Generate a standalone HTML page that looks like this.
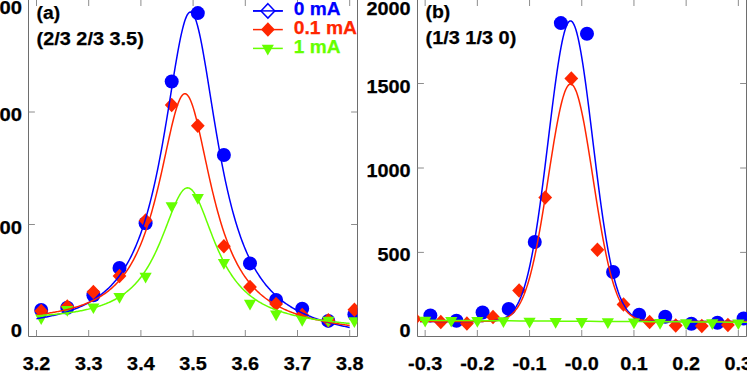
<!DOCTYPE html>
<html><head><meta charset="utf-8"><title>plot</title>
<style>html,body{margin:0;padding:0;background:#fff;}svg{display:block;}text{font-family:"Liberation Sans",sans-serif;font-weight:bold;stroke-width:0.25px;paint-order:stroke;}</style>
</head><body>
<svg width="747" height="374" viewBox="0 0 747 374">
<rect width="747" height="374" fill="#fff"/>
<defs><clipPath id="ca"><rect x="28.7" y="-5" width="328.7" height="341.5"/></clipPath>
<clipPath id="cb"><rect x="417.4" y="-5" width="340" height="341.5"/></clipPath></defs>
<g stroke="#6e6e6e" stroke-width="1" fill="none">
<path d="M28.50 -2 V336.50 H357.50 V-2"/>
<path stroke="#808080" stroke-width="0.9" d="M36.50 336.50 v-6.5 M36.50 0 v6"/>
<path stroke="#808080" stroke-width="0.9" d="M88.70 336.50 v-6.5 M88.70 0 v6"/>
<path stroke="#808080" stroke-width="0.9" d="M140.90 336.50 v-6.5 M140.90 0 v6"/>
<path stroke="#808080" stroke-width="0.9" d="M193.10 336.50 v-6.5 M193.10 0 v6"/>
<path stroke="#808080" stroke-width="0.9" d="M245.30 336.50 v-6.5 M245.30 0 v6"/>
<path stroke="#808080" stroke-width="0.9" d="M297.50 336.50 v-6.5 M297.50 0 v6"/>
<path stroke="#808080" stroke-width="0.9" d="M349.70 336.50 v-6.5 M349.70 0 v6"/>
<path stroke="#808080" stroke-width="0.9" d="M28.50 112.00 h6.4 M357.50 112.00 h-6.4"/>
<path stroke="#808080" stroke-width="0.9" d="M28.50 224.50 h6.4 M357.50 224.50 h-6.4"/>
<path d="M417.50 -2 V336.50 H746.50 V-2"/>
<path stroke="#808080" stroke-width="0.9" d="M425.15 336.50 v-6.5 M425.15 0 v6"/>
<path stroke="#808080" stroke-width="0.9" d="M477.35 336.50 v-6.5 M477.35 0 v6"/>
<path stroke="#808080" stroke-width="0.9" d="M529.55 336.50 v-6.5 M529.55 0 v6"/>
<path stroke="#808080" stroke-width="0.9" d="M581.75 336.50 v-6.5 M581.75 0 v6"/>
<path stroke="#808080" stroke-width="0.9" d="M633.95 336.50 v-6.5 M633.95 0 v6"/>
<path stroke="#808080" stroke-width="0.9" d="M686.15 336.50 v-6.5 M686.15 0 v6"/>
<path stroke="#808080" stroke-width="0.9" d="M738.35 336.50 v-6.5 M738.35 0 v6"/>
<path stroke="#808080" stroke-width="0.9" d="M417.50 83.50 h6.4 M746.50 83.50 h-6.4"/>
<path stroke="#808080" stroke-width="0.9" d="M417.50 168.00 h6.4 M746.50 168.00 h-6.4"/>
<path stroke="#808080" stroke-width="0.9" d="M417.50 252.40 h6.4 M746.50 252.40 h-6.4"/>
</g>
<g clip-path="url(#ca)">
<g fill="#0000ff">
<circle cx="41.20" cy="310.00" r="7.00"/>
<circle cx="67.30" cy="307.70" r="7.00"/>
<circle cx="93.40" cy="295.20" r="7.00"/>
<circle cx="119.50" cy="267.90" r="7.00"/>
<circle cx="145.60" cy="223.20" r="7.00"/>
<circle cx="171.70" cy="81.50" r="7.00"/>
<circle cx="197.80" cy="13.10" r="7.00"/>
<circle cx="223.90" cy="155.00" r="7.00"/>
<circle cx="250.00" cy="263.40" r="7.00"/>
<circle cx="276.10" cy="300.00" r="7.00"/>
<circle cx="302.20" cy="308.80" r="7.00"/>
<circle cx="328.30" cy="320.90" r="7.00"/>
<circle cx="354.40" cy="314.50" r="7.00"/>
</g><g fill="#ff2600">
<path d="M41.20 303.85 L48.10 311.10 L41.20 318.35 L34.30 311.10Z"/>
<path d="M67.30 299.25 L74.20 306.50 L67.30 313.75 L60.40 306.50Z"/>
<path d="M93.40 284.85 L100.30 292.10 L93.40 299.35 L86.50 292.10Z"/>
<path d="M119.50 268.75 L126.40 276.00 L119.50 283.25 L112.60 276.00Z"/>
<path d="M145.60 213.25 L152.50 220.50 L145.60 227.75 L138.70 220.50Z"/>
<path d="M171.70 97.65 L178.60 104.90 L171.70 112.15 L164.80 104.90Z"/>
<path d="M197.80 118.55 L204.70 125.80 L197.80 133.05 L190.90 125.80Z"/>
<path d="M223.90 239.05 L230.80 246.30 L223.90 253.55 L217.00 246.30Z"/>
<path d="M250.00 279.75 L256.90 287.00 L250.00 294.25 L243.10 287.00Z"/>
<path d="M276.10 296.85 L283.00 304.10 L276.10 311.35 L269.20 304.10Z"/>
<path d="M302.20 307.75 L309.10 315.00 L302.20 322.25 L295.30 315.00Z"/>
<path d="M328.30 312.95 L335.20 320.20 L328.30 327.45 L321.40 320.20Z"/>
<path d="M354.40 302.45 L361.30 309.70 L354.40 316.95 L347.50 309.70Z"/>
</g><g fill="#66ff00">
<path d="M35.10 314.20 L47.30 314.20 L41.20 324.90Z"/>
<path d="M61.20 306.00 L73.40 306.00 L67.30 316.70Z"/>
<path d="M87.30 303.40 L99.50 303.40 L93.40 314.10Z"/>
<path d="M113.40 293.10 L125.60 293.10 L119.50 303.80Z"/>
<path d="M139.50 272.70 L151.70 272.70 L145.60 283.40Z"/>
<path d="M165.60 202.20 L177.80 202.20 L171.70 212.90Z"/>
<path d="M191.70 194.00 L203.90 194.00 L197.80 204.70Z"/>
<path d="M217.80 259.10 L230.00 259.10 L223.90 269.80Z"/>
<path d="M243.90 299.80 L256.10 299.80 L250.00 310.50Z"/>
<path d="M270.00 310.50 L282.20 310.50 L276.10 321.20Z"/>
<path d="M296.10 316.10 L308.30 316.10 L302.20 326.80Z"/>
<path d="M322.20 316.80 L334.40 316.80 L328.30 327.50Z"/>
<path d="M348.30 317.20 L360.50 317.20 L354.40 327.90Z"/>
</g>
<g fill="none" stroke-width="1.5" stroke-linejoin="round">
<path stroke="#0000ff" d="M36.50 318.69 L37.50 318.53 L38.50 318.36 L39.50 318.19 L40.50 318.02 L41.50 317.84 L42.50 317.66 L43.50 317.48 L44.50 317.29 L45.50 317.10 L46.50 316.90 L47.50 316.70 L48.50 316.50 L49.50 316.29 L50.50 316.07 L51.50 315.85 L52.50 315.63 L53.50 315.40 L54.50 315.16 L55.50 314.92 L56.50 314.68 L57.50 314.43 L58.50 314.17 L59.50 313.91 L60.50 313.64 L61.50 313.36 L62.50 313.08 L63.50 312.79 L64.50 312.50 L65.50 312.20 L66.50 311.89 L67.50 311.57 L68.50 311.25 L69.50 310.91 L70.50 310.57 L71.50 310.23 L72.50 309.87 L73.50 309.50 L74.50 309.13 L75.50 308.74 L76.50 308.35 L77.50 307.94 L78.50 307.53 L79.50 307.10 L80.50 306.67 L81.50 306.22 L82.50 305.76 L83.50 305.29 L84.50 304.81 L85.50 304.31 L86.50 303.80 L87.50 303.28 L88.50 302.74 L89.50 302.19 L90.50 301.63 L91.50 301.04 L92.50 300.45 L93.50 299.83 L94.50 299.20 L95.50 298.55 L96.50 297.88 L97.50 297.20 L98.50 296.49 L99.50 295.76 L100.50 295.02 L101.50 294.25 L102.50 293.45 L103.50 292.64 L104.50 291.80 L105.50 290.93 L106.50 290.04 L107.50 289.12 L108.50 288.18 L109.50 287.20 L110.50 286.20 L111.50 285.16 L112.50 284.09 L113.50 282.99 L114.50 281.85 L115.50 280.68 L116.50 279.46 L117.50 278.21 L118.50 276.92 L119.50 275.59 L120.50 274.21 L121.50 272.78 L122.50 271.31 L123.50 269.79 L124.50 268.22 L125.50 266.59 L126.50 264.91 L127.50 263.17 L128.50 261.37 L129.50 259.51 L130.50 257.59 L131.50 255.59 L132.50 253.53 L133.50 251.40 L134.50 249.18 L135.50 246.89 L136.50 244.52 L137.50 242.07 L138.50 239.52 L139.50 236.89 L140.50 234.16 L141.50 231.33 L142.50 228.40 L143.50 225.37 L144.50 222.23 L145.50 218.97 L146.50 215.60 L147.50 212.12 L148.50 208.51 L149.50 204.77 L150.50 200.90 L151.50 196.91 L152.50 192.78 L153.50 188.51 L154.50 184.10 L155.50 179.55 L156.50 174.86 L157.50 170.03 L158.50 165.05 L159.50 159.94 L160.50 154.68 L161.50 149.29 L162.50 143.77 L163.50 138.12 L164.50 132.35 L165.50 126.48 L166.50 120.50 L167.50 114.44 L168.50 108.31 L169.50 102.13 L170.50 95.91 L171.50 89.68 L172.50 83.47 L173.50 77.29 L174.50 71.19 L175.50 65.18 L176.50 59.32 L177.50 53.62 L178.50 48.14 L179.50 42.90 L180.50 37.95 L181.50 33.33 L182.50 29.07 L183.50 25.21 L184.50 21.79 L185.50 18.85 L186.50 16.40 L187.50 14.47 L188.50 13.09 L189.50 12.26 L190.50 12.00 L191.50 12.31 L192.50 13.19 L193.50 14.62 L194.50 16.60 L195.50 19.10 L196.50 22.09 L197.50 25.56 L198.50 29.47 L199.50 33.78 L200.50 38.45 L201.50 43.45 L202.50 48.74 L203.50 54.27 L204.50 60.02 L205.50 65.93 L206.50 71.99 L207.50 78.14 L208.50 84.37 L209.50 90.63 L210.50 96.91 L211.50 103.18 L212.50 109.41 L213.50 115.59 L214.50 121.70 L215.50 127.73 L216.50 133.65 L217.50 139.47 L218.50 145.17 L219.50 150.74 L220.50 156.18 L221.50 161.49 L222.50 166.65 L223.50 171.68 L224.50 176.56 L225.50 181.30 L226.50 185.90 L227.50 190.36 L228.50 194.68 L229.50 198.86 L230.50 202.90 L231.50 206.82 L232.50 210.61 L233.50 214.27 L234.50 217.80 L235.50 221.22 L236.50 224.53 L237.50 227.72 L238.50 230.80 L239.50 233.78 L240.50 236.66 L241.50 239.44 L242.50 242.12 L243.50 244.72 L244.50 247.22 L245.50 249.64 L246.50 251.98 L247.50 254.25 L248.50 256.43 L249.50 258.54 L250.50 260.59 L251.50 262.56 L252.50 264.47 L253.50 266.32 L254.50 268.11 L255.50 269.84 L256.50 271.52 L257.50 273.14 L258.50 274.71 L259.50 276.23 L260.50 277.71 L261.50 279.14 L262.50 280.52 L263.50 281.86 L264.50 283.16 L265.50 284.43 L266.50 285.65 L267.50 286.84 L268.50 287.99 L269.50 289.11 L270.50 290.20 L271.50 291.25 L272.50 292.28 L273.50 293.27 L274.50 294.24 L275.50 295.18 L276.50 296.10 L277.50 296.99 L278.50 297.85 L279.50 298.70 L280.50 299.52 L281.50 300.31 L282.50 301.09 L283.50 301.85 L284.50 302.58 L285.50 303.30 L286.50 304.00 L287.50 304.68 L288.50 305.35 L289.50 305.99 L290.50 306.63 L291.50 307.24 L292.50 307.84 L293.50 308.43 L294.50 309.00 L295.50 309.56 L296.50 310.11 L297.50 310.64 L298.50 311.16 L299.50 311.67 L300.50 312.17 L301.50 312.65 L302.50 313.13 L303.50 313.59 L304.50 314.05 L305.50 314.49 L306.50 314.93 L307.50 315.35 L308.50 315.77 L309.50 316.18 L310.50 316.57 L311.50 316.96 L312.50 317.35 L313.50 317.72 L314.50 318.09 L315.50 318.45 L316.50 318.80 L317.50 319.14 L318.50 319.48 L319.50 319.81 L320.50 320.14 L321.50 320.46 L322.50 320.77 L323.50 321.08 L324.50 321.38 L325.50 321.67 L326.50 321.96 L327.50 322.25 L328.50 322.53 L329.50 322.80 L330.50 323.07 L331.50 323.34 L332.50 323.60 L333.50 323.85 L334.50 324.10 L335.50 324.35 L336.50 324.59 L337.50 324.83 L338.50 325.06 L339.50 325.29 L340.50 325.52 L341.50 325.74 L342.50 325.96 L343.50 326.18 L344.50 326.39 L345.50 326.60 L346.50 326.80 L347.50 327.01 L348.50 327.21 L349.50 327.40 L349.70 327.44"/>
<path stroke="#ff2600" d="M36.50 314.75 L37.50 314.64 L38.50 314.52 L39.50 314.39 L40.50 314.27 L41.50 314.14 L42.50 314.01 L43.50 313.88 L44.50 313.74 L45.50 313.60 L46.50 313.46 L47.50 313.31 L48.50 313.16 L49.50 313.00 L50.50 312.84 L51.50 312.68 L52.50 312.52 L53.50 312.34 L54.50 312.17 L55.50 311.99 L56.50 311.81 L57.50 311.62 L58.50 311.43 L59.50 311.23 L60.50 311.03 L61.50 310.82 L62.50 310.61 L63.50 310.39 L64.50 310.16 L65.50 309.93 L66.50 309.70 L67.50 309.46 L68.50 309.21 L69.50 308.96 L70.50 308.69 L71.50 308.43 L72.50 308.15 L73.50 307.87 L74.50 307.58 L75.50 307.28 L76.50 306.98 L77.50 306.66 L78.50 306.34 L79.50 306.01 L80.50 305.67 L81.50 305.32 L82.50 304.96 L83.50 304.59 L84.50 304.21 L85.50 303.82 L86.50 303.42 L87.50 303.00 L88.50 302.58 L89.50 302.14 L90.50 301.69 L91.50 301.23 L92.50 300.75 L93.50 300.26 L94.50 299.75 L95.50 299.23 L96.50 298.70 L97.50 298.14 L98.50 297.57 L99.50 296.99 L100.50 296.38 L101.50 295.76 L102.50 295.11 L103.50 294.45 L104.50 293.77 L105.50 293.06 L106.50 292.33 L107.50 291.58 L108.50 290.80 L109.50 290.00 L110.50 289.17 L111.50 288.31 L112.50 287.43 L113.50 286.52 L114.50 285.57 L115.50 284.59 L116.50 283.58 L117.50 282.54 L118.50 281.46 L119.50 280.34 L120.50 279.18 L121.50 277.99 L122.50 276.75 L123.50 275.46 L124.50 274.13 L125.50 272.76 L126.50 271.33 L127.50 269.85 L128.50 268.32 L129.50 266.74 L130.50 265.09 L131.50 263.39 L132.50 261.62 L133.50 259.79 L134.50 257.89 L135.50 255.92 L136.50 253.87 L137.50 251.76 L138.50 249.56 L139.50 247.28 L140.50 244.92 L141.50 242.47 L142.50 239.94 L143.50 237.31 L144.50 234.59 L145.50 231.77 L146.50 228.85 L147.50 225.83 L148.50 222.71 L149.50 219.48 L150.50 216.14 L151.50 212.70 L152.50 209.14 L153.50 205.48 L154.50 201.71 L155.50 197.84 L156.50 193.86 L157.50 189.78 L158.50 185.60 L159.50 181.34 L160.50 176.98 L161.50 172.56 L162.50 168.06 L163.50 163.52 L164.50 158.93 L165.50 154.31 L166.50 149.69 L167.50 145.08 L168.50 140.50 L169.50 135.98 L170.50 131.54 L171.50 127.20 L172.50 123.00 L173.50 118.97 L174.50 115.13 L175.50 111.52 L176.50 108.17 L177.50 105.10 L178.50 102.34 L179.50 99.93 L180.50 97.89 L181.50 96.23 L182.50 94.98 L183.50 94.15 L184.50 93.74 L185.50 93.77 L186.50 94.23 L187.50 95.12 L188.50 96.43 L189.50 98.14 L190.50 100.24 L191.50 102.71 L192.50 105.51 L193.50 108.64 L194.50 112.05 L195.50 115.72 L196.50 119.61 L197.50 123.70 L198.50 127.95 L199.50 132.34 L200.50 136.84 L201.50 141.42 L202.50 146.05 L203.50 150.72 L204.50 155.40 L205.50 160.07 L206.50 164.71 L207.50 169.31 L208.50 173.86 L209.50 178.35 L210.50 182.75 L211.50 187.08 L212.50 191.31 L213.50 195.44 L214.50 199.48 L215.50 203.41 L216.50 207.23 L217.50 210.95 L218.50 214.56 L219.50 218.06 L220.50 221.45 L221.50 224.73 L222.50 227.91 L223.50 230.99 L224.50 233.96 L225.50 236.84 L226.50 239.62 L227.50 242.30 L228.50 244.89 L229.50 247.40 L230.50 249.81 L231.50 252.14 L232.50 254.40 L233.50 256.57 L234.50 258.67 L235.50 260.69 L236.50 262.65 L237.50 264.54 L238.50 266.36 L239.50 268.12 L240.50 269.82 L241.50 271.46 L242.50 273.05 L243.50 274.58 L244.50 276.07 L245.50 277.50 L246.50 278.88 L247.50 280.22 L248.50 281.52 L249.50 282.77 L250.50 283.98 L251.50 285.16 L252.50 286.29 L253.50 287.39 L254.50 288.46 L255.50 289.49 L256.50 290.49 L257.50 291.46 L258.50 292.40 L259.50 293.31 L260.50 294.20 L261.50 295.05 L262.50 295.89 L263.50 296.69 L264.50 297.48 L265.50 298.24 L266.50 298.98 L267.50 299.70 L268.50 300.40 L269.50 301.08 L270.50 301.74 L271.50 302.38 L272.50 303.01 L273.50 303.62 L274.50 304.21 L275.50 304.78 L276.50 305.35 L277.50 305.89 L278.50 306.42 L279.50 306.94 L280.50 307.45 L281.50 307.94 L282.50 308.42 L283.50 308.89 L284.50 309.35 L285.50 309.80 L286.50 310.23 L287.50 310.66 L288.50 311.07 L289.50 311.48 L290.50 311.87 L291.50 312.26 L292.50 312.64 L293.50 313.01 L294.50 313.37 L295.50 313.72 L296.50 314.07 L297.50 314.41 L298.50 314.74 L299.50 315.06 L300.50 315.38 L301.50 315.69 L302.50 315.99 L303.50 316.29 L304.50 316.58 L305.50 316.86 L306.50 317.14 L307.50 317.42 L308.50 317.69 L309.50 317.95 L310.50 318.21 L311.50 318.46 L312.50 318.71 L313.50 318.95 L314.50 319.19 L315.50 319.43 L316.50 319.66 L317.50 319.88 L318.50 320.10 L319.50 320.32 L320.50 320.54 L321.50 320.75 L322.50 320.95 L323.50 321.16 L324.50 321.36 L325.50 321.55 L326.50 321.74 L327.50 321.93 L328.50 322.12 L329.50 322.30 L330.50 322.48 L331.50 322.66 L332.50 322.84 L333.50 323.01 L334.50 323.18 L335.50 323.34 L336.50 323.51 L337.50 323.67 L338.50 323.83 L339.50 323.99 L340.50 324.14 L341.50 324.29 L342.50 324.44 L343.50 324.59 L344.50 324.73 L345.50 324.88 L346.50 325.02 L347.50 325.16 L348.50 325.30 L349.50 325.43 L349.70 325.46"/>
<path stroke="#66ff00" d="M36.50 315.82 L37.50 315.76 L38.50 315.69 L39.50 315.63 L40.50 315.56 L41.50 315.49 L42.50 315.42 L43.50 315.35 L44.50 315.27 L45.50 315.20 L46.50 315.12 L47.50 315.04 L48.50 314.96 L49.50 314.87 L50.50 314.79 L51.50 314.70 L52.50 314.61 L53.50 314.52 L54.50 314.42 L55.50 314.32 L56.50 314.22 L57.50 314.12 L58.50 314.01 L59.50 313.91 L60.50 313.79 L61.50 313.68 L62.50 313.56 L63.50 313.44 L64.50 313.32 L65.50 313.19 L66.50 313.06 L67.50 312.93 L68.50 312.79 L69.50 312.65 L70.50 312.51 L71.50 312.36 L72.50 312.21 L73.50 312.05 L74.50 311.89 L75.50 311.73 L76.50 311.56 L77.50 311.39 L78.50 311.21 L79.50 311.03 L80.50 310.84 L81.50 310.64 L82.50 310.44 L83.50 310.24 L84.50 310.03 L85.50 309.81 L86.50 309.59 L87.50 309.36 L88.50 309.13 L89.50 308.89 L90.50 308.64 L91.50 308.38 L92.50 308.12 L93.50 307.84 L94.50 307.56 L95.50 307.28 L96.50 306.98 L97.50 306.68 L98.50 306.36 L99.50 306.04 L100.50 305.70 L101.50 305.36 L102.50 305.00 L103.50 304.64 L104.50 304.26 L105.50 303.87 L106.50 303.47 L107.50 303.06 L108.50 302.63 L109.50 302.19 L110.50 301.73 L111.50 301.26 L112.50 300.78 L113.50 300.28 L114.50 299.76 L115.50 299.22 L116.50 298.67 L117.50 298.10 L118.50 297.51 L119.50 296.90 L120.50 296.27 L121.50 295.61 L122.50 294.94 L123.50 294.24 L124.50 293.52 L125.50 292.77 L126.50 291.99 L127.50 291.19 L128.50 290.36 L129.50 289.50 L130.50 288.61 L131.50 287.69 L132.50 286.74 L133.50 285.75 L134.50 284.72 L135.50 283.66 L136.50 282.56 L137.50 281.42 L138.50 280.24 L139.50 279.02 L140.50 277.75 L141.50 276.44 L142.50 275.08 L143.50 273.67 L144.50 272.21 L145.50 270.70 L146.50 269.13 L147.50 267.52 L148.50 265.85 L149.50 264.12 L150.50 262.33 L151.50 260.48 L152.50 258.58 L153.50 256.62 L154.50 254.59 L155.50 252.51 L156.50 250.36 L157.50 248.16 L158.50 245.90 L159.50 243.59 L160.50 241.22 L161.50 238.80 L162.50 236.33 L163.50 233.83 L164.50 231.28 L165.50 228.71 L166.50 226.11 L167.50 223.50 L168.50 220.88 L169.50 218.26 L170.50 215.66 L171.50 213.09 L172.50 210.55 L173.50 208.08 L174.50 205.67 L175.50 203.35 L176.50 201.13 L177.50 199.03 L178.50 197.06 L179.50 195.24 L180.50 193.60 L181.50 192.13 L182.50 190.86 L183.50 189.79 L184.50 188.95 L185.50 188.33 L186.50 187.95 L187.50 187.80 L188.50 187.89 L189.50 188.23 L190.50 188.80 L191.50 189.59 L192.50 190.61 L193.50 191.85 L194.50 193.28 L195.50 194.90 L196.50 196.70 L197.50 198.65 L198.50 200.74 L199.50 202.96 L200.50 205.28 L201.50 207.70 L202.50 210.20 L203.50 212.75 L204.50 215.35 L205.50 217.99 L206.50 220.64 L207.50 223.31 L208.50 225.97 L209.50 228.62 L210.50 231.24 L211.50 233.85 L212.50 236.41 L213.50 238.94 L214.50 241.42 L215.50 243.85 L216.50 246.23 L217.50 248.56 L218.50 250.83 L219.50 253.04 L220.50 255.19 L221.50 257.28 L222.50 259.31 L223.50 261.28 L224.50 263.20 L225.50 265.05 L226.50 266.84 L227.50 268.58 L228.50 270.27 L229.50 271.89 L230.50 273.47 L231.50 274.99 L232.50 276.46 L233.50 277.88 L234.50 279.26 L235.50 280.59 L236.50 281.87 L237.50 283.11 L238.50 284.31 L239.50 285.47 L240.50 286.59 L241.50 287.68 L242.50 288.72 L243.50 289.73 L244.50 290.71 L245.50 291.66 L246.50 292.57 L247.50 293.46 L248.50 294.32 L249.50 295.14 L250.50 295.95 L251.50 296.72 L252.50 297.47 L253.50 298.20 L254.50 298.91 L255.50 299.59 L256.50 300.25 L257.50 300.90 L258.50 301.52 L259.50 302.12 L260.50 302.71 L261.50 303.27 L262.50 303.83 L263.50 304.36 L264.50 304.88 L265.50 305.38 L266.50 305.87 L267.50 306.35 L268.50 306.81 L269.50 307.26 L270.50 307.70 L271.50 308.13 L272.50 308.54 L273.50 308.94 L274.50 309.33 L275.50 309.71 L276.50 310.09 L277.50 310.45 L278.50 310.80 L279.50 311.14 L280.50 311.48 L281.50 311.80 L282.50 312.12 L283.50 312.43 L284.50 312.74 L285.50 313.03 L286.50 313.32 L287.50 313.60 L288.50 313.88 L289.50 314.14 L290.50 314.41 L291.50 314.66 L292.50 314.91 L293.50 315.16 L294.50 315.40 L295.50 315.63 L296.50 315.86 L297.50 316.08 L298.50 316.30 L299.50 316.51 L300.50 316.72 L301.50 316.93 L302.50 317.13 L303.50 317.33 L304.50 317.52 L305.50 317.71 L306.50 317.89 L307.50 318.08 L308.50 318.25 L309.50 318.43 L310.50 318.60 L311.50 318.77 L312.50 318.93 L313.50 319.09 L314.50 319.25 L315.50 319.41 L316.50 319.56 L317.50 319.71 L318.50 319.86 L319.50 320.00 L320.50 320.15 L321.50 320.29 L322.50 320.42 L323.50 320.56 L324.50 320.69 L325.50 320.82 L326.50 320.95 L327.50 321.08 L328.50 321.20 L329.50 321.32 L330.50 321.44 L331.50 321.56 L332.50 321.68 L333.50 321.79 L334.50 321.90 L335.50 322.02 L336.50 322.12 L337.50 322.23 L338.50 322.34 L339.50 322.44 L340.50 322.55 L341.50 322.65 L342.50 322.75 L343.50 322.85 L344.50 322.94 L345.50 323.04 L346.50 323.14 L347.50 323.23 L348.50 323.32 L349.50 323.41 L349.70 323.43"/>
</g></g>
<g clip-path="url(#cb)">
<g fill="#0000ff">
<circle cx="430.37" cy="315.40" r="7.00"/>
<circle cx="456.47" cy="320.80" r="7.00"/>
<circle cx="482.57" cy="312.50" r="7.00"/>
<circle cx="508.67" cy="308.90" r="7.00"/>
<circle cx="534.77" cy="242.00" r="7.00"/>
<circle cx="560.87" cy="23.10" r="7.00"/>
<circle cx="586.97" cy="33.70" r="7.00"/>
<circle cx="613.07" cy="272.00" r="7.00"/>
<circle cx="639.17" cy="314.70" r="7.00"/>
<circle cx="665.27" cy="316.80" r="7.00"/>
<circle cx="691.37" cy="323.70" r="7.00"/>
<circle cx="717.47" cy="322.80" r="7.00"/>
<circle cx="743.57" cy="318.50" r="7.00"/>
</g><g fill="#ff2600">
<path d="M414.71 311.55 L421.61 318.80 L414.71 326.05 L407.81 318.80Z"/>
<path d="M440.81 314.85 L447.71 322.10 L440.81 329.35 L433.91 322.10Z"/>
<path d="M466.91 316.25 L473.81 323.50 L466.91 330.75 L460.01 323.50Z"/>
<path d="M493.01 309.75 L499.91 317.00 L493.01 324.25 L486.11 317.00Z"/>
<path d="M519.11 283.35 L526.01 290.60 L519.11 297.85 L512.21 290.60Z"/>
<path d="M545.21 190.35 L552.11 197.60 L545.21 204.85 L538.31 197.60Z"/>
<path d="M571.31 71.15 L578.21 78.40 L571.31 85.65 L564.41 78.40Z"/>
<path d="M597.41 242.60 L604.31 249.85 L597.41 257.10 L590.51 249.85Z"/>
<path d="M623.51 297.15 L630.41 304.40 L623.51 311.65 L616.61 304.40Z"/>
<path d="M649.61 314.85 L656.51 322.10 L649.61 329.35 L642.71 322.10Z"/>
<path d="M675.71 318.25 L682.61 325.50 L675.71 332.75 L668.81 325.50Z"/>
<path d="M701.81 318.85 L708.71 326.10 L701.81 333.35 L694.91 326.10Z"/>
<path d="M727.91 317.85 L734.81 325.10 L727.91 332.35 L721.01 325.10Z"/>
</g>
<g fill="none" stroke-width="1.5" stroke-linejoin="round">
<path stroke="#0000ff" d="M420.00 321.50 L421.00 321.50 L422.00 321.50 L423.00 321.50 L424.00 321.50 L425.00 321.50 L426.00 321.50 L427.00 321.50 L428.00 321.50 L429.00 321.50 L430.00 321.50 L431.00 321.50 L432.00 321.50 L433.00 321.50 L434.00 321.50 L435.00 321.50 L436.00 321.50 L437.00 321.50 L438.00 321.50 L439.00 321.50 L440.00 321.50 L441.00 321.50 L442.00 321.50 L443.00 321.50 L444.00 321.50 L445.00 321.50 L446.00 321.50 L447.00 321.50 L448.00 321.50 L449.00 321.50 L450.00 321.50 L451.00 321.50 L452.00 321.50 L453.00 321.50 L454.00 321.50 L455.00 321.50 L456.00 321.50 L457.00 321.50 L458.00 321.50 L459.00 321.50 L460.00 321.50 L461.00 321.50 L462.00 321.50 L463.00 321.50 L464.00 321.50 L465.00 321.50 L466.00 321.50 L467.00 321.49 L468.00 321.49 L469.00 321.49 L470.00 321.49 L471.00 321.49 L472.00 321.48 L473.00 321.48 L474.00 321.48 L475.00 321.47 L476.00 321.47 L477.00 321.46 L478.00 321.45 L479.00 321.44 L480.00 321.43 L481.00 321.41 L482.00 321.40 L483.00 321.38 L484.00 321.35 L485.00 321.33 L486.00 321.29 L487.00 321.25 L488.00 321.21 L489.00 321.15 L490.00 321.09 L491.00 321.02 L492.00 320.94 L493.00 320.84 L494.00 320.73 L495.00 320.60 L496.00 320.45 L497.00 320.28 L498.00 320.08 L499.00 319.86 L500.00 319.60 L501.00 319.31 L502.00 318.98 L503.00 318.61 L504.00 318.18 L505.00 317.71 L506.00 317.17 L507.00 316.56 L508.00 315.89 L509.00 315.13 L510.00 314.29 L511.00 313.35 L512.00 312.31 L513.00 311.16 L514.00 309.88 L515.00 308.48 L516.00 306.93 L517.00 305.24 L518.00 303.38 L519.00 301.36 L520.00 299.15 L521.00 296.75 L522.00 294.15 L523.00 291.34 L524.00 288.31 L525.00 285.05 L526.00 281.55 L527.00 277.80 L528.00 273.80 L529.00 269.53 L530.00 265.00 L531.00 260.20 L532.00 255.13 L533.00 249.79 L534.00 244.17 L535.00 238.28 L536.00 232.13 L537.00 225.72 L538.00 219.05 L539.00 212.15 L540.00 205.02 L541.00 197.67 L542.00 190.13 L543.00 182.42 L544.00 174.55 L545.00 166.55 L546.00 158.45 L547.00 150.28 L548.00 142.06 L549.00 133.83 L550.00 125.62 L551.00 117.47 L552.00 109.41 L553.00 101.49 L554.00 93.73 L555.00 86.18 L556.00 78.88 L557.00 71.85 L558.00 65.15 L559.00 58.80 L560.00 52.85 L561.00 47.31 L562.00 42.24 L563.00 37.65 L564.00 33.57 L565.00 30.03 L566.00 27.04 L567.00 24.63 L568.00 22.81 L569.00 21.59 L570.00 20.98 L571.00 20.98 L572.00 21.59 L573.00 22.81 L574.00 24.63 L575.00 27.04 L576.00 30.03 L577.00 33.57 L578.00 37.65 L579.00 42.24 L580.00 47.31 L581.00 52.85 L582.00 58.80 L583.00 65.15 L584.00 71.85 L585.00 78.88 L586.00 86.18 L587.00 93.73 L588.00 101.49 L589.00 109.41 L590.00 117.47 L591.00 125.62 L592.00 133.83 L593.00 142.06 L594.00 150.28 L595.00 158.45 L596.00 166.55 L597.00 174.55 L598.00 182.42 L599.00 190.13 L600.00 197.67 L601.00 205.02 L602.00 212.15 L603.00 219.05 L604.00 225.72 L605.00 232.13 L606.00 238.28 L607.00 244.17 L608.00 249.79 L609.00 255.13 L610.00 260.20 L611.00 265.00 L612.00 269.53 L613.00 273.80 L614.00 277.80 L615.00 281.55 L616.00 285.05 L617.00 288.31 L618.00 291.34 L619.00 294.15 L620.00 296.75 L621.00 299.15 L622.00 301.36 L623.00 303.38 L624.00 305.24 L625.00 306.93 L626.00 308.48 L627.00 309.88 L628.00 311.16 L629.00 312.31 L630.00 313.35 L631.00 314.29 L632.00 315.13 L633.00 315.89 L634.00 316.56 L635.00 317.17 L636.00 317.71 L637.00 318.18 L638.00 318.61 L639.00 318.98 L640.00 319.31 L641.00 319.60 L642.00 319.86 L643.00 320.08 L644.00 320.28 L645.00 320.45 L646.00 320.60 L647.00 320.73 L648.00 320.84 L649.00 320.94 L650.00 321.02 L651.00 321.09 L652.00 321.15 L653.00 321.21 L654.00 321.25 L655.00 321.29 L656.00 321.33 L657.00 321.35 L658.00 321.38 L659.00 321.40 L660.00 321.41 L661.00 321.43 L662.00 321.44 L663.00 321.45 L664.00 321.46 L665.00 321.47 L666.00 321.47 L667.00 321.48 L668.00 321.48 L669.00 321.48 L670.00 321.49 L671.00 321.49 L672.00 321.49 L673.00 321.49 L674.00 321.49 L675.00 321.50 L676.00 321.50 L677.00 321.50 L678.00 321.50 L679.00 321.50 L680.00 321.50 L681.00 321.50 L682.00 321.50 L683.00 321.50 L684.00 321.50 L685.00 321.50 L686.00 321.50 L687.00 321.50 L688.00 321.50 L689.00 321.50 L690.00 321.50 L691.00 321.50 L692.00 321.50 L693.00 321.50 L694.00 321.50 L695.00 321.50 L696.00 321.50 L697.00 321.50 L698.00 321.50 L699.00 321.50 L700.00 321.50 L701.00 321.50 L702.00 321.50 L703.00 321.50 L704.00 321.50 L705.00 321.50 L706.00 321.50 L707.00 321.50 L708.00 321.50 L709.00 321.50 L710.00 321.50 L711.00 321.50 L712.00 321.50 L713.00 321.50 L714.00 321.50 L715.00 321.50 L716.00 321.50 L717.00 321.50 L718.00 321.50 L719.00 321.50 L720.00 321.50 L721.00 321.50 L722.00 321.50 L723.00 321.50 L724.00 321.50 L725.00 321.50 L726.00 321.50 L727.00 321.50 L728.00 321.50 L729.00 321.50 L730.00 321.50 L731.00 321.50 L732.00 321.50 L733.00 321.50 L734.00 321.50 L735.00 321.50 L736.00 321.50 L737.00 321.50 L738.00 321.50 L739.00 321.50 L740.00 321.50 L741.00 321.50 L742.00 321.50 L743.00 321.50 L744.00 321.50 L745.00 321.50 L746.00 321.50 L747.00 321.50 L748.00 321.50 L749.00 321.50 L750.00 321.50"/>
<path stroke="#ff2600" d="M420.00 321.50 L421.00 321.50 L422.00 321.50 L423.00 321.50 L424.00 321.50 L425.00 321.50 L426.00 321.50 L427.00 321.50 L428.00 321.50 L429.00 321.50 L430.00 321.50 L431.00 321.50 L432.00 321.50 L433.00 321.50 L434.00 321.50 L435.00 321.50 L436.00 321.50 L437.00 321.50 L438.00 321.50 L439.00 321.50 L440.00 321.50 L441.00 321.50 L442.00 321.50 L443.00 321.50 L444.00 321.50 L445.00 321.50 L446.00 321.50 L447.00 321.50 L448.00 321.50 L449.00 321.50 L450.00 321.50 L451.00 321.50 L452.00 321.50 L453.00 321.50 L454.00 321.50 L455.00 321.50 L456.00 321.50 L457.00 321.50 L458.00 321.50 L459.00 321.50 L460.00 321.50 L461.00 321.50 L462.00 321.50 L463.00 321.50 L464.00 321.50 L465.00 321.50 L466.00 321.50 L467.00 321.50 L468.00 321.49 L469.00 321.49 L470.00 321.49 L471.00 321.49 L472.00 321.49 L473.00 321.48 L474.00 321.48 L475.00 321.48 L476.00 321.47 L477.00 321.46 L478.00 321.46 L479.00 321.45 L480.00 321.44 L481.00 321.43 L482.00 321.41 L483.00 321.39 L484.00 321.37 L485.00 321.35 L486.00 321.32 L487.00 321.29 L488.00 321.25 L489.00 321.21 L490.00 321.15 L491.00 321.09 L492.00 321.02 L493.00 320.94 L494.00 320.85 L495.00 320.74 L496.00 320.62 L497.00 320.48 L498.00 320.31 L499.00 320.13 L500.00 319.92 L501.00 319.68 L502.00 319.41 L503.00 319.10 L504.00 318.75 L505.00 318.36 L506.00 317.92 L507.00 317.43 L508.00 316.88 L509.00 316.27 L510.00 315.58 L511.00 314.82 L512.00 313.98 L513.00 313.05 L514.00 312.02 L515.00 310.89 L516.00 309.64 L517.00 308.28 L518.00 306.79 L519.00 305.17 L520.00 303.40 L521.00 301.48 L522.00 299.41 L523.00 297.16 L524.00 294.74 L525.00 292.14 L526.00 289.36 L527.00 286.38 L528.00 283.20 L529.00 279.81 L530.00 276.22 L531.00 272.42 L532.00 268.40 L533.00 264.18 L534.00 259.74 L535.00 255.09 L536.00 250.23 L537.00 245.17 L538.00 239.92 L539.00 234.48 L540.00 228.86 L541.00 223.08 L542.00 217.15 L543.00 211.08 L544.00 204.90 L545.00 198.62 L546.00 192.26 L547.00 185.84 L548.00 179.39 L549.00 172.93 L550.00 166.49 L551.00 160.10 L552.00 153.78 L553.00 147.56 L554.00 141.47 L555.00 135.55 L556.00 129.82 L557.00 124.30 L558.00 119.04 L559.00 114.05 L560.00 109.37 L561.00 105.02 L562.00 101.02 L563.00 97.40 L564.00 94.18 L565.00 91.37 L566.00 89.00 L567.00 87.07 L568.00 85.61 L569.00 84.61 L570.00 84.09 L571.00 84.04 L572.00 84.47 L573.00 85.37 L574.00 86.74 L575.00 88.58 L576.00 90.86 L577.00 93.58 L578.00 96.72 L579.00 100.27 L580.00 104.19 L581.00 108.47 L582.00 113.09 L583.00 118.02 L584.00 123.23 L585.00 128.70 L586.00 134.39 L587.00 140.27 L588.00 146.33 L589.00 152.52 L590.00 158.82 L591.00 165.21 L592.00 171.64 L593.00 178.09 L594.00 184.55 L595.00 190.98 L596.00 197.35 L597.00 203.65 L598.00 209.86 L599.00 215.95 L600.00 221.91 L601.00 227.72 L602.00 233.37 L603.00 238.84 L604.00 244.14 L605.00 249.23 L606.00 254.13 L607.00 258.82 L608.00 263.31 L609.00 267.58 L610.00 271.63 L611.00 275.48 L612.00 279.11 L613.00 282.54 L614.00 285.76 L615.00 288.78 L616.00 291.60 L617.00 294.24 L618.00 296.69 L619.00 298.97 L620.00 301.08 L621.00 303.03 L622.00 304.83 L623.00 306.48 L624.00 307.99 L625.00 309.38 L626.00 310.65 L627.00 311.80 L628.00 312.85 L629.00 313.80 L630.00 314.66 L631.00 315.44 L632.00 316.14 L633.00 316.76 L634.00 317.33 L635.00 317.83 L636.00 318.28 L637.00 318.68 L638.00 319.03 L639.00 319.35 L640.00 319.63 L641.00 319.87 L642.00 320.09 L643.00 320.28 L644.00 320.45 L645.00 320.59 L646.00 320.72 L647.00 320.83 L648.00 320.92 L649.00 321.01 L650.00 321.08 L651.00 321.14 L652.00 321.20 L653.00 321.24 L654.00 321.28 L655.00 321.32 L656.00 321.34 L657.00 321.37 L658.00 321.39 L659.00 321.41 L660.00 321.42 L661.00 321.44 L662.00 321.45 L663.00 321.46 L664.00 321.46 L665.00 321.47 L666.00 321.47 L667.00 321.48 L668.00 321.48 L669.00 321.49 L670.00 321.49 L671.00 321.49 L672.00 321.49 L673.00 321.49 L674.00 321.49 L675.00 321.50 L676.00 321.50 L677.00 321.50 L678.00 321.50 L679.00 321.50 L680.00 321.50 L681.00 321.50 L682.00 321.50 L683.00 321.50 L684.00 321.50 L685.00 321.50 L686.00 321.50 L687.00 321.50 L688.00 321.50 L689.00 321.50 L690.00 321.50 L691.00 321.50 L692.00 321.50 L693.00 321.50 L694.00 321.50 L695.00 321.50 L696.00 321.50 L697.00 321.50 L698.00 321.50 L699.00 321.50 L700.00 321.50 L701.00 321.50 L702.00 321.50 L703.00 321.50 L704.00 321.50 L705.00 321.50 L706.00 321.50 L707.00 321.50 L708.00 321.50 L709.00 321.50 L710.00 321.50 L711.00 321.50 L712.00 321.50 L713.00 321.50 L714.00 321.50 L715.00 321.50 L716.00 321.50 L717.00 321.50 L718.00 321.50 L719.00 321.50 L720.00 321.50 L721.00 321.50 L722.00 321.50 L723.00 321.50 L724.00 321.50 L725.00 321.50 L726.00 321.50 L727.00 321.50 L728.00 321.50 L729.00 321.50 L730.00 321.50 L731.00 321.50 L732.00 321.50 L733.00 321.50 L734.00 321.50 L735.00 321.50 L736.00 321.50 L737.00 321.50 L738.00 321.50 L739.00 321.50 L740.00 321.50 L741.00 321.50 L742.00 321.50 L743.00 321.50 L744.00 321.50 L745.00 321.50 L746.00 321.50 L747.00 321.50 L748.00 321.50 L749.00 321.50 L750.00 321.50"/>
</g>
<g fill="#66ff00">
<path d="M419.05 316.80 L431.25 316.80 L425.15 327.50Z"/>
<path d="M445.15 316.90 L457.35 316.90 L451.25 327.60Z"/>
<path d="M471.25 317.00 L483.45 317.00 L477.35 327.70Z"/>
<path d="M497.35 317.30 L509.55 317.30 L503.45 328.00Z"/>
<path d="M523.45 317.80 L535.65 317.80 L529.55 328.50Z"/>
<path d="M549.55 318.00 L561.75 318.00 L555.65 328.70Z"/>
<path d="M575.65 318.10 L587.85 318.10 L581.75 328.80Z"/>
<path d="M601.75 318.20 L613.95 318.20 L607.85 328.90Z"/>
<path d="M627.85 318.50 L640.05 318.50 L633.95 329.20Z"/>
<path d="M653.95 319.00 L666.15 319.00 L660.05 329.70Z"/>
<path d="M680.05 319.20 L692.25 319.20 L686.15 329.90Z"/>
<path d="M706.15 319.30 L718.35 319.30 L712.25 330.00Z"/>
<path d="M732.25 319.40 L744.45 319.40 L738.35 330.10Z"/>
</g>
<path fill="none" stroke-width="1.5" stroke="#66ff00" d="M420.00 320.30 L430.00 320.36 L440.00 320.42 L450.00 320.48 L460.00 320.54 L470.00 320.60 L480.00 320.66 L490.00 320.72 L500.00 320.78 L510.00 320.84 L520.00 320.90 L530.00 320.96 L540.00 321.02 L550.00 321.08 L560.00 321.14 L570.00 321.20 L580.00 321.26 L590.00 321.32 L600.00 321.38 L610.00 321.44 L620.00 321.50 L630.00 321.56 L640.00 321.62 L650.00 321.68 L660.00 321.74 L670.00 321.80 L680.00 321.86 L690.00 321.92 L700.00 321.98 L710.00 322.04 L720.00 322.10 L730.00 322.16 L740.00 322.22 L750.00 322.28"/>
</g>
<path d="M253 10.90 H282.8" stroke="#0000ff" stroke-width="1.5" fill="none"/>
<path d="M253 29.60 H282.8" stroke="#ff2600" stroke-width="1.5" fill="none"/>
<path d="M253 48.40 H282.8" stroke="#66ff00" stroke-width="1.5" fill="none"/>
<path d="M267.9 3.7 L274.8 10.9 L267.9 18.1 L261.0 10.9Z" fill="#fff" stroke="#0000ff" stroke-width="1.5"/>
<path d="M253 10.9 H282.8" stroke="#0000ff" stroke-width="1.5" fill="none"/>
<g fill="#ff2600"><path d="M267.90 22.35 L274.80 29.60 L267.90 36.85 L261.00 29.60Z"/></g>
<g fill="#66ff00"><path d="M261.70 44.80 L273.90 44.80 L267.80 55.50Z"/></g>
<text x="293.80" y="15.30" text-anchor="start" fill="#0000ff" stroke="#0000ff" font-size="18.80" textLength="46.80" lengthAdjust="spacingAndGlyphs">0 mA</text>
<text x="293.80" y="34.00" text-anchor="start" fill="#ff2600" stroke="#ff2600" font-size="18.80" textLength="63.20" lengthAdjust="spacingAndGlyphs">0.1 mA</text>
<text x="293.80" y="52.70" text-anchor="start" fill="#66ff00" stroke="#66ff00" font-size="18.80" textLength="46.80" lengthAdjust="spacingAndGlyphs">1 mA</text>
<text x="36.60" y="18.60" text-anchor="start" fill="#000000" stroke="#000000" font-size="18.80" textLength="23.60" lengthAdjust="spacingAndGlyphs">(a)</text>
<text x="36.60" y="44.50" text-anchor="start" fill="#000000" stroke="#000000" font-size="18.80" textLength="107.20" lengthAdjust="spacingAndGlyphs">(2/3 2/3 3.5)</text>
<text x="425.50" y="18.00" text-anchor="start" fill="#000000" stroke="#000000" font-size="18.80" textLength="24.80" lengthAdjust="spacingAndGlyphs">(b)</text>
<text x="425.50" y="44.20" text-anchor="start" fill="#000000" stroke="#000000" font-size="18.80" textLength="90.80" lengthAdjust="spacingAndGlyphs">(1/3 1/3 0)</text>
<text x="21.90" y="14.20" text-anchor="end" fill="#000000" stroke="#000000" font-size="18.80" textLength="33.75" lengthAdjust="spacingAndGlyphs">300</text>
<text x="21.90" y="121.00" text-anchor="end" fill="#000000" stroke="#000000" font-size="18.80" textLength="33.75" lengthAdjust="spacingAndGlyphs">200</text>
<text x="21.90" y="233.50" text-anchor="end" fill="#000000" stroke="#000000" font-size="18.80" textLength="33.75" lengthAdjust="spacingAndGlyphs">100</text>
<text x="21.90" y="336.80" text-anchor="end" fill="#000000" stroke="#000000" font-size="18.80" textLength="11.25" lengthAdjust="spacingAndGlyphs">0</text>
<text x="410.60" y="14.70" text-anchor="end" fill="#000000" stroke="#000000" font-size="18.80" textLength="44.20" lengthAdjust="spacingAndGlyphs">2000</text>
<text x="410.60" y="92.60" text-anchor="end" fill="#000000" stroke="#000000" font-size="18.80" textLength="44.20" lengthAdjust="spacingAndGlyphs">1500</text>
<text x="410.60" y="177.00" text-anchor="end" fill="#000000" stroke="#000000" font-size="18.80" textLength="44.20" lengthAdjust="spacingAndGlyphs">1000</text>
<text x="410.60" y="261.30" text-anchor="end" fill="#000000" stroke="#000000" font-size="18.80" textLength="33.15" lengthAdjust="spacingAndGlyphs">500</text>
<text x="410.60" y="336.80" text-anchor="end" fill="#000000" stroke="#000000" font-size="18.80" textLength="11.05" lengthAdjust="spacingAndGlyphs">0</text>
<text x="36.50" y="369.60" text-anchor="middle" fill="#000000" stroke="#000000" font-size="18.80" textLength="27.60" lengthAdjust="spacingAndGlyphs">3.2</text>
<text x="88.70" y="369.60" text-anchor="middle" fill="#000000" stroke="#000000" font-size="18.80" textLength="27.60" lengthAdjust="spacingAndGlyphs">3.3</text>
<text x="140.90" y="369.60" text-anchor="middle" fill="#000000" stroke="#000000" font-size="18.80" textLength="27.60" lengthAdjust="spacingAndGlyphs">3.4</text>
<text x="193.10" y="369.60" text-anchor="middle" fill="#000000" stroke="#000000" font-size="18.80" textLength="27.60" lengthAdjust="spacingAndGlyphs">3.5</text>
<text x="245.30" y="369.60" text-anchor="middle" fill="#000000" stroke="#000000" font-size="18.80" textLength="27.60" lengthAdjust="spacingAndGlyphs">3.6</text>
<text x="297.50" y="369.60" text-anchor="middle" fill="#000000" stroke="#000000" font-size="18.80" textLength="27.60" lengthAdjust="spacingAndGlyphs">3.7</text>
<text x="349.70" y="369.60" text-anchor="middle" fill="#000000" stroke="#000000" font-size="18.80" textLength="27.60" lengthAdjust="spacingAndGlyphs">3.8</text>
<text x="425.15" y="369.60" text-anchor="middle" fill="#000000" stroke="#000000" font-size="18.80" textLength="34.20" lengthAdjust="spacingAndGlyphs">-0.3</text>
<text x="477.35" y="369.60" text-anchor="middle" fill="#000000" stroke="#000000" font-size="18.80" textLength="34.20" lengthAdjust="spacingAndGlyphs">-0.2</text>
<text x="529.55" y="369.60" text-anchor="middle" fill="#000000" stroke="#000000" font-size="18.80" textLength="34.20" lengthAdjust="spacingAndGlyphs">-0.1</text>
<text x="581.75" y="369.60" text-anchor="middle" fill="#000000" stroke="#000000" font-size="18.80" textLength="34.20" lengthAdjust="spacingAndGlyphs">-0.0</text>
<text x="633.95" y="369.60" text-anchor="middle" fill="#000000" stroke="#000000" font-size="18.80" textLength="27.60" lengthAdjust="spacingAndGlyphs">0.1</text>
<text x="686.15" y="369.60" text-anchor="middle" fill="#000000" stroke="#000000" font-size="18.80" textLength="27.60" lengthAdjust="spacingAndGlyphs">0.2</text>
<text x="738.35" y="369.60" text-anchor="middle" fill="#000000" stroke="#000000" font-size="18.80" textLength="27.60" lengthAdjust="spacingAndGlyphs">0.3</text>
</svg></body></html>
